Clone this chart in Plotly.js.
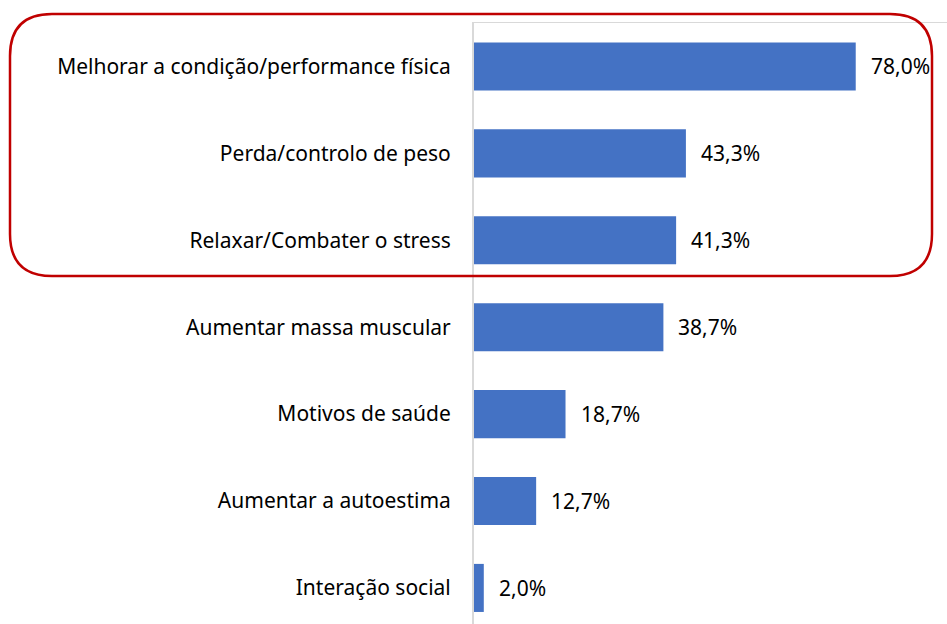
<!DOCTYPE html>
<html>
<head>
<meta charset="utf-8">
<script src="https://cdn.plot.ly/plotly-3.0.1.min.js"></script>
<style>html,body{margin:0;padding:0;background:#fff;}#chart{width:947px;height:624px;}</style>
</head>
<body>
<div id="chart"></div>
<script>
const categories = [
  "Melhorar a condição/performance física",
  "Perda/controlo de peso",
  "Relaxar/Combater o stress",
  "Aumentar massa muscular",
  "Motivos de saúde",
  "Aumentar a autoestima",
  "Interação social"
];
const values = [78.0, 43.3, 41.3, 38.7, 18.7, 12.7, 2.0];

const W = 947, H = 624, ML = 474, MT = 23;
const PW = W - ML, PH = H - MT;
const px2x = p => (p - ML) / PW;
const py2y = p => (H - p) / PH;

// rounded highlight rectangle (pixel geometry converted to paper coords)
function roundRect(x0, y0, x1, y1, r) {
  const P = (x, y) => px2x(x).toFixed(5) + ',' + py2y(y).toFixed(5);
  return 'M' + P(x0 + r, y0) + ' L' + P(x1 - r, y0) + ' Q' + P(x1, y0) + ' ' + P(x1, y0 + r) +
    ' L' + P(x1, y1 - r) + ' Q' + P(x1, y1) + ' ' + P(x1 - r, y1) +
    ' L' + P(x0 + r, y1) + ' Q' + P(x0, y1) + ' ' + P(x0, y1 - r) +
    ' L' + P(x0, y0 + r) + ' Q' + P(x0, y0) + ' ' + P(x0 + r, y0) + ' Z';
}

const fontFam = '"Noto Sans", "Open Sans", sans-serif';

const trace = {
  type: 'bar',
  orientation: 'h',
  x: values,
  y: categories,
  width: 0.553,
  marker: {color: '#4472C4'},
  hoverinfo: 'none'
};

const annotations = values.map((v, i) => ({
  x: v, y: categories[i], xref: 'x', yref: 'y',
  text: v.toFixed(1).replace('.', ',') + '%',
  showarrow: false, xanchor: 'left', xshift: 13,
  font: {family: fontFam, size: 21, color: '#000'}
}));

const layout = {
  width: W, height: H,
  margin: {l: ML, r: 0, t: MT, b: 0, pad: 0},
  paper_bgcolor: '#fff', plot_bgcolor: '#fff',
  showlegend: false,
  xaxis: {
    range: [0, 96.65], showgrid: false, zeroline: false, showticklabels: false,
    ticks: '', side: 'top', showline: true, linecolor: '#D9D9D9', linewidth: 1.5, fixedrange: true
  },
  yaxis: {
    type: 'category', range: [6.415, -0.5], showgrid: false, zeroline: false,
    ticks: '', showline: true, linecolor: '#D9D9D9', linewidth: 2,
    ticklabelstandoff: 17,
    tickfont: {family: fontFam, size: 21, color: '#000'}, fixedrange: true
  },
  annotations: annotations,
  shapes: [{
    type: 'path', xref: 'paper', yref: 'paper',
    path: roundRect(10, 14, 932, 276, 42),
    line: {color: '#C00000', width: 2.5}, fillcolor: 'rgba(0,0,0,0)', layer: 'above'
  }]
};

Plotly.newPlot('chart', [trace], layout, {displayModeBar: false, staticPlot: true});
</script>
</body>
</html>
